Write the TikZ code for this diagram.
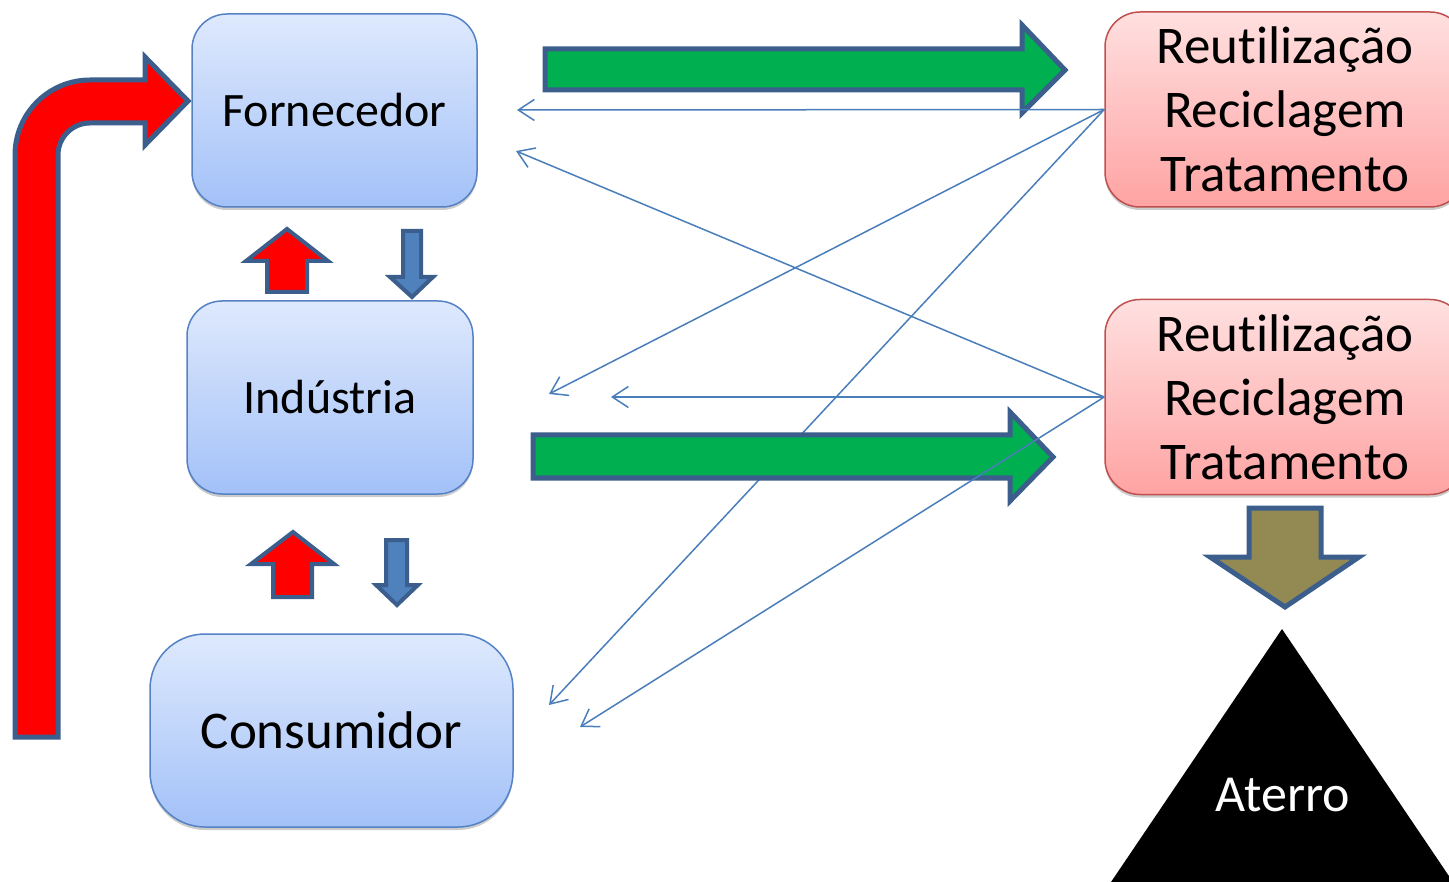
\documentclass[tikz,border=0pt]{standalone}
\usepackage{fontspec}
\setmainfont{Carlito}[RawFeature={-liga;-clig;-calt;-dlig}]
\usetikzlibrary{arrows.meta,shadows}
\definecolor{bluetop}{RGB}{222,233,253}
\definecolor{bluebot}{RGB}{163,193,248}
\definecolor{blueedge}{RGB}{84,130,196}
\definecolor{redtop}{RGB}{255,224,224}
\definecolor{redbot}{RGB}{255,163,163}
\definecolor{rededge}{RGB}{192,80,77}
\definecolor{outl}{RGB}{59,94,140}
\definecolor{arrgreen}{RGB}{0,176,80}
\definecolor{arrblue}{RGB}{79,129,189}
\definecolor{arrolive}{RGB}{147,137,83}
\definecolor{thinblue}{RGB}{74,126,187}
\begin{document}
\begin{tikzpicture}[x=1pt,y=-1pt,
  bluebox/.style={draw=blueedge, line width=1.5pt, rounded corners=35pt,
    top color=bluetop, bottom color=bluebot, minimum height=193pt, inner sep=0pt,
    drop shadow={shadow xshift=0pt, shadow yshift=-3pt, fill=black!40}},
  redbox/.style={draw=rededge, line width=1.5pt, rounded corners=35pt,
    top color=redtop, bottom color=redbot, minimum width=360pt, minimum height=195pt, inner sep=0pt,
    align=center, font=\fontsize{53}{64}\selectfont,
    drop shadow={shadow xshift=0pt, shadow yshift=-3pt, fill=black!40}},
  blockarrow/.style={draw=outl, line width=5pt, line join=miter},
  smallarrow/.style={draw=outl, line width=4pt, line join=miter},
  thinarrow/.style={draw=thinblue, line width=1.5pt, -{Straight Barb[length=16pt,width=21pt,line width=1.5pt]}}]
\useasboundingbox (0,0) rectangle (1449,882);
\clip (0,0) rectangle (1449,882);

% boxes
\node[bluebox, minimum width=285pt, font=\fontsize{48}{58}\selectfont] (forn) at (334.5,110.5) {Fornecedor};
\node[bluebox, minimum width=286pt, font=\fontsize{48}{58}\selectfont] (ind) at (330,397.5) {Indústria};
\node[bluebox, minimum width=363pt, rounded corners=55pt, font=\fontsize{53}{64}\selectfont] (cons) at (331.5,730.5) {Consumidor};
\node[redbox] (r1) at (1285,109.5) {Reutilização\\Reciclagem\\Tratamento};
\node[redbox] (r2) at (1285,397) {Reutilização\\Reciclagem\\Tratamento};

% free ends of connectors
\coordinate (tF1) at (517,110);
\coordinate (tF2) at (516,151);
\coordinate (tI1) at (549,394);
\coordinate (tI2) at (611,397);
\coordinate (tC1) at (549,705);
\coordinate (tC2) at (580,727);

% line under green arrow
\draw[thinarrow] (r1.west) -- (tC1);

% green arrows
\draw[blockarrow, fill=arrgreen] (545,49) -- (1022,49) -- (1022,25) -- (1065,70) -- (1022,113) -- (1022,90) -- (545,90) -- cycle;
\draw[blockarrow, fill=arrgreen] (533,435) -- (1010,435) -- (1010,412) -- (1053,457) -- (1010,501) -- (1010,478) -- (533,478) -- cycle;

% thin connectors
\draw[thinarrow] (r1.west) -- (tF1);
\draw[thinarrow] (r1.west) -- (tI1);
\draw[thinarrow] (r2.west) -- (tF2);
\draw[thinarrow] (r2.west) -- (tI2);
\draw[thinarrow] (r2.west) -- (tC2);

% red bent arrow
\draw[blockarrow, fill=red] (15,737) -- (15,155) .. controls (15,113.6) and (48.6,80) .. (90,80) -- (145,80) -- (145,57) -- (188,101) -- (145,145) -- (145,123) -- (90,123) .. controls (72.3,123) and (58,137.3) .. (58,155) -- (58,737) -- cycle;

% small arrows
\draw[smallarrow, fill=red] (267,292) -- (267,261) -- (246,261) -- (287,229) -- (328,261) -- (307,261) -- (307,292) -- cycle;
\draw[smallarrow, fill=red] (273,597) -- (273,564) -- (251,564) -- (293,532) -- (334,564) -- (312,564) -- (312,597) -- cycle;
\draw[smallarrow, fill=arrblue] (403,231) -- (421,231) -- (421,277) -- (433,277) -- (412,297) -- (390,277) -- (403,277) -- cycle;
\draw[smallarrow, fill=arrblue] (386,540) -- (407,540) -- (407,585) -- (418,585) -- (397,605) -- (376,585) -- (386,585) -- cycle;
\draw[blockarrow, fill=arrolive] (1249,508) -- (1321,508) -- (1321,557) -- (1359,557) -- (1285,607) -- (1210,557) -- (1249,557) -- cycle;

% landfill
\fill[black] (1282,629) -- (1455,885) -- (1109,885) -- cycle;
\node[text=white, font=\fontsize{52}{62}\selectfont] (aterro) at (1283,795) {Aterro};
\end{tikzpicture}
\end{document}
